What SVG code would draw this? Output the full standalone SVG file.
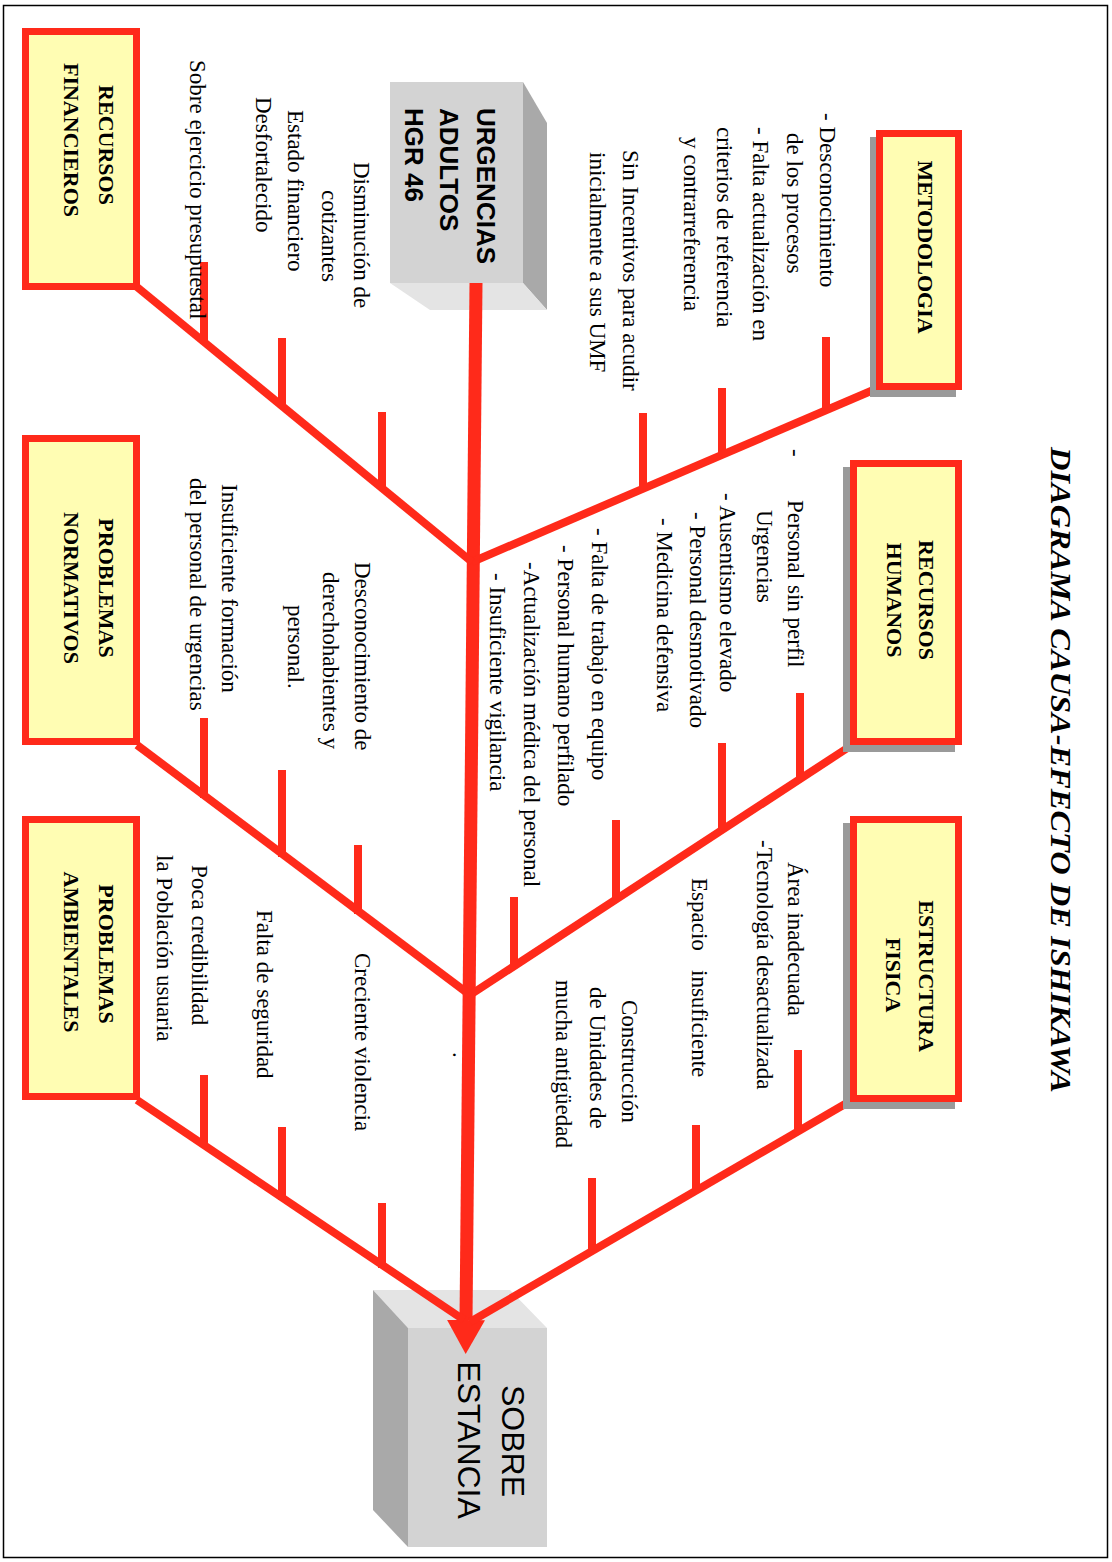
<svg xmlns="http://www.w3.org/2000/svg" width="1112" height="1562" viewBox="0 0 1112 1562">
<defs>
<style>
.c{font-family:"Liberation Serif","Times New Roman",serif;font-size:23px;fill:#000}
.cat{font-family:"Liberation Serif","Times New Roman",serif;font-size:22px;font-weight:bold;fill:#000;text-anchor:middle}
.box{fill:#FFFDB3;stroke:#FF2A1A;stroke-width:7}
.shadow{fill:#9a9a9a}
.ln{stroke:#FF2A1A;stroke-width:8;fill:none;stroke-linecap:butt}
.spine{stroke:#FF2A1A;stroke-width:13;fill:none}
.front{fill:#d3d3d3}
.side{fill:#a9a9a9}
.lid{fill:#e4e4e4}
.big{font-family:"Liberation Sans",Arial,sans-serif;fill:#000}
</style>
<marker id="arrow" markerUnits="userSpaceOnUse" markerWidth="40" markerHeight="40" refX="0" refY="19" orient="auto">
<path d="M0,0 L34,19 L0,38 z" fill="#FF2A1A"/>
</marker>
</defs>
<rect x="0" y="0" width="1112" height="1562" fill="#fff"/>
<rect x="3.5" y="5.5" width="1104" height="1552" fill="none" stroke="#000" stroke-width="1.5"/>

<g id="title">
<text class="c" style="font-weight:bold;font-style:italic;font-size:30px" textLength="646" lengthAdjust="spacingAndGlyphs" transform="translate(1051,447) rotate(90)">DIAGRAMA CAUSA-EFECTO DE ISHIKAWA</text>
</g>

<g id="sobre-estancia">
<polygon class="lid" points="373,1290 510,1290 547,1328 408,1328"/>
<polygon class="side" points="373,1290 408,1328 408,1547 373,1510"/>
<rect class="front" x="408" y="1328" width="139" height="219"/>
<text class="big" font-size="32" text-anchor="middle" transform="translate(502,1441) rotate(90)">SOBRE</text>
<text class="big" font-size="32" text-anchor="middle" transform="translate(458,1440) rotate(90)">ESTANCIA</text>
</g>

<g id="urgencias">
<polygon class="side" points="523,82 547,123 547,310 523,283"/>
<polygon class="lid" points="390,283 523,283 547,310 430,310"/>
<rect class="front" x="390" y="82" width="133" height="201"/>
<text class="big" font-size="26" font-weight="bold" transform="translate(477,108) rotate(90)">URGENCIAS</text>
<text class="big" font-size="26" font-weight="bold" transform="translate(440,108) rotate(90)">ADULTOS</text>
<text class="big" font-size="26" font-weight="bold" transform="translate(405,108) rotate(90)">HGR 46</text>
</g>

<g id="connectors">
<path class="spine" d="M476,283 L466,1320" marker-end="url(#arrow)"/>
<path class="ln" d="M878,388 L472,562"/>
<path class="ln" d="M137,287 L472,562"/>
<path class="ln" d="M852,745 L470,995"/>
<path class="ln" d="M137,745 L470,995"/>
<path class="ln" d="M852,1100 L470,1322"/>
<path class="ln" d="M137,1100 L464,1320"/>
<path class="ln" d="M826,337 V412 M722,388 V457 M643,413 V491"/>
<path class="ln" d="M382,412 V490 M282,338 V408 M204,262 V344"/>
<path class="ln" d="M800,693 V781 M722,743 V832 M616,820 V901 M514,897 V968"/>
<path class="ln" d="M358,845 V914 M282,770 V857 M204,718 V798"/>
<path class="ln" d="M798,1050 V1133 M696,1125 V1193 M592,1178 V1253"/>
<path class="ln" d="M382,1203 V1268 M282,1127 V1200 M204,1075 V1147"/>
</g>

<g id="metodologia">
<rect class="shadow" x="870" y="137" width="86" height="260"/>
<rect class="box" x="879.5" y="133.5" width="79" height="253"/>
<text class="cat" transform="translate(918,247) rotate(90)">METODOLOGIA</text>
</g>
<g id="recursos-humanos">
<rect class="shadow" x="843" y="467" width="112" height="285"/>
<rect class="box" x="853.5" y="463.5" width="105" height="278"/>
<text class="cat" transform="translate(919,600) rotate(90)">RECURSOS</text>
<text class="cat" transform="translate(887,600) rotate(90)">HUMANOS</text>
</g>
<g id="estructura-fisica">
<rect class="shadow" x="843" y="823" width="112" height="286"/>
<rect class="box" x="853.5" y="819.5" width="105" height="279"/>
<text class="cat" transform="translate(919,976) rotate(90)">ESTRUCTURA</text>
<text class="cat" transform="translate(886,975) rotate(90)">FISICA</text>
</g>
<g id="recursos-financieros">
<rect class="box" x="25.5" y="31.5" width="111" height="255"/>
<text class="cat" transform="translate(99,145) rotate(90)">RECURSOS</text>
<text class="cat" transform="translate(64,140) rotate(90)">FINANCIEROS</text>
</g>
<g id="problemas-normativos">
<rect class="box" x="25.5" y="438.5" width="111" height="303"/>
<text class="cat" transform="translate(99,588) rotate(90)">PROBLEMAS</text>
<text class="cat" transform="translate(64,588) rotate(90)">NORMATIVOS</text>
</g>
<g id="problemas-ambientales">
<rect class="box" x="25.5" y="819.5" width="111" height="277"/>
<text class="cat" transform="translate(99,954) rotate(90)">PROBLEMAS</text>
<text class="cat" transform="translate(64,952) rotate(90)">AMBIENTALES</text>
</g>

<g id="causas-metodologia">
<text class="c" transform="translate(820,113) rotate(90)">- Desconocimiento</text>
<text class="c" transform="translate(787,133) rotate(90)">de los procesos</text>
<text class="c" transform="translate(753,127) rotate(90)">- Falta actualización en</text>
<text class="c" transform="translate(717,127) rotate(90)">criterios de referencia</text>
<text class="c" transform="translate(684,137) rotate(90)">y contrarreferencia</text>
<text class="c" transform="translate(623,150) rotate(90)">Sin Incentivos para acudir</text>
<text class="c" transform="translate(590,152) rotate(90)">inicialmente a sus UMF</text>
</g>
<g id="causas-financieros">
<text class="c" transform="translate(354,162) rotate(90)">Disminución de</text>
<text class="c" transform="translate(322,190) rotate(90)">cotizantes</text>
<text class="c" transform="translate(288,110) rotate(90)">Estado financiero</text>
<text class="c" transform="translate(256,97) rotate(90)">Desfortalecido</text>
<text class="c" transform="translate(190,60) rotate(90)">Sobre ejercicio presupuestal</text>
</g>
<g id="causas-normativos">
<text class="c" transform="translate(355,562) rotate(90)">Desconocimiento de</text>
<text class="c" transform="translate(323,572) rotate(90)">derechohabientes y</text>
<text class="c" transform="translate(288,605) rotate(90)">personal.</text>
<text class="c" transform="translate(222,484) rotate(90)">Insuficiente formación</text>
<text class="c" transform="translate(190,478) rotate(90)">del personal de urgencias</text>
</g>
<g id="causas-humanos">
<text class="c" transform="translate(788,449) rotate(90)">- <tspan x="51">Personal sin perfil</tspan></text>
<text class="c" transform="translate(757,510) rotate(90)">Urgencias</text>
<text class="c" transform="translate(720,493) rotate(90)">- Ausentismo elevado</text>
<text class="c" transform="translate(690,512) rotate(90)">- Personal desmotivado</text>
<text class="c" transform="translate(657,518) rotate(90)">- Medicina defensiva</text>
<text class="c" transform="translate(592,528) rotate(90)">- Falta de trabajo en equipo</text>
<text class="c" transform="translate(558,545) rotate(90)">- Personal humano perfilado</text>
<text class="c" transform="translate(524,562) rotate(90)">-Actualización médica del personal</text>
<text class="c" transform="translate(490,573) rotate(90)">- Insuficiente vigilancia</text>
</g>
<g id="causas-estructura">
<text class="c" transform="translate(788,862) rotate(90)">Área inadecuada</text>
<text class="c" transform="translate(757,840) rotate(90)">-Tecnología desactualizada</text>
<text class="c" transform="translate(692,878) rotate(90)">Espacio <tspan x="92">insuficiente</tspan></text>
<text class="c" transform="translate(622,1000) rotate(90)">Construcción</text>
<text class="c" transform="translate(590,987) rotate(90)">de Unidades de</text>
<text class="c" transform="translate(556,980) rotate(90)">mucha antigüedad</text>
</g>
<g id="causas-ambientales">
<text class="c" transform="translate(355,953) rotate(90)">Creciente violencia</text>
<text class="c" transform="translate(257,910) rotate(90)">Falta de seguridad</text>
<text class="c" transform="translate(192,865) rotate(90)">Poca credibilidad</text>
<text class="c" transform="translate(157,855) rotate(90)">la Población usuaria</text>
<text class="c" transform="translate(453,1052) rotate(90)">.</text>
</g>
</svg>
